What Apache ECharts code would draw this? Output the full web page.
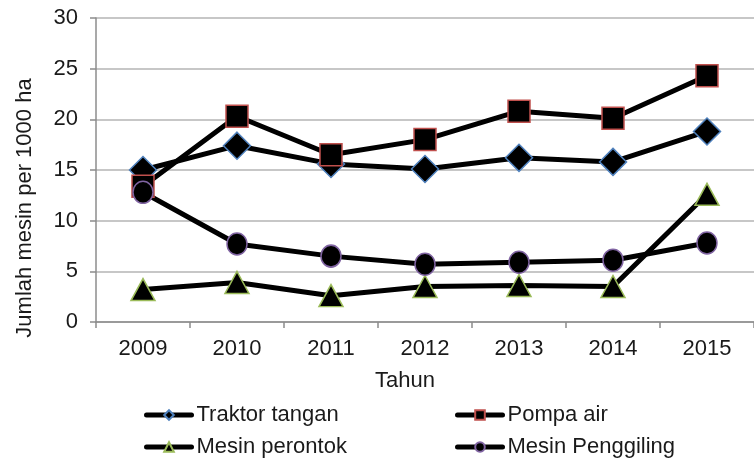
<!DOCTYPE html>
<html>
<head>
<meta charset="utf-8">
<script src="https://cdn.jsdelivr.net/npm/echarts@6/dist/echarts.min.js"></script>
<style>
    html, body { margin: 0; padding: 0; background: #fff; }
    #chart { width: 754px; height: 462px; }
</style>
</head>
<body>
<div id="chart"></div>
<script>
    // data
    const years = ['2009', '2010', '2011', '2012', '2013', '2014', '2015'];
    const traktorTangan = [15.0, 17.4, 15.6, 15.1, 16.2, 15.8, 18.8];
    const pompaAir = [13.4, 20.3, 16.5, 18.0, 20.8, 20.1, 24.3];
    const mesinPerontok = [3.2, 3.9, 2.6, 3.5, 3.6, 3.5, 12.6];
    const mesinPenggiling = [12.8, 7.7, 6.5, 5.7, 5.9, 6.1, 7.8];
    const yTicks = [0, 5, 10, 15, 20, 25, 30];

    const font = 'Liberation Sans, Arial, sans-serif';
    const fs = 22;

    function lineSeries(name, data, symbol, size, border) {
        return {
            name: name,
            type: 'line',
            data: data,
            symbol: symbol,
            symbolSize: size,
            showAllSymbol: true,
            lineStyle: { color: '#000', width: 5 },
            itemStyle: { color: '#000', borderColor: border, borderWidth: 1.5 },
            emphasis: { disabled: true },
            animation: false
        };
    }

    const legendBase = {
        orient: 'vertical',
        top: 404,
        padding: 0,
        height: 58,
        itemWidth: 45, itemHeight: 12, itemGap: 10,
        lineStyle: { width: 5, cap: 'round' },
        textStyle: { color: '#1a1a1a', fontSize: fs, fontFamily: font }
    };

    const chart = echarts.init(document.getElementById('chart'));
    chart.setOption({
        backgroundColor: '#fff',
        animation: false,
        grid: { left: 96, right: -7, top: 18, bottom: 140, containLabel: false },
        xAxis: {
            type: 'category',
            data: years,
            boundaryGap: true,
            axisLine: { lineStyle: { color: '#8c8c8c', width: 1.5 } },
            axisTick: { show: true, length: 6, alignWithLabel: false, lineStyle: { color: '#8c8c8c', width: 1.5 } },
            axisLabel: { color: '#1a1a1a', fontSize: fs, fontFamily: font, margin: 16 }
        },
        yAxis: {
            type: 'value',
            min: yTicks[0],
            max: yTicks[yTicks.length - 1],
            interval: 5,
            axisLine: { show: true, lineStyle: { color: '#8c8c8c', width: 1.5 } },
            axisTick: { show: true, length: 6, lineStyle: { color: '#8c8c8c', width: 1.5 } },
            axisLabel: { color: '#1a1a1a', fontSize: fs, fontFamily: font, margin: 18 },
            splitLine: { lineStyle: { color: '#b4b4b4', width: 1.5 } }
        },
        legend: [
            Object.assign({}, legendBase, { data: ['Traktor tangan', 'Mesin perontok'], left: 144 }),
            Object.assign({}, legendBase, { data: ['Pompa air', 'Mesin Penggiling'], left: 455 })
        ],
        graphic: [
            {
                type: 'text', x: 405, y: 381,
                style: { text: 'Tahun', fill: '#1a1a1a', font: fs + 'px ' + font, align: 'center', verticalAlign: 'middle' }
            },
            {
                type: 'text', x: 25, y: 208, rotation: Math.PI / 2,
                style: { text: 'Jumlah mesin per 1000 ha', fill: '#1a1a1a', font: fs + 'px ' + font, align: 'center', verticalAlign: 'middle' }
            }
        ],
        series: [
            lineSeries('Traktor tangan', traktorTangan, 'diamond', 27, '#4f81bd'),
            lineSeries('Pompa air', pompaAir, 'rect', 22, '#c0504d'),
            lineSeries('Mesin perontok', mesinPerontok, 'triangle', [24, 22], '#9bbb59'),
            lineSeries('Mesin Penggiling', mesinPenggiling, 'circle', [20, 22], '#8064a2')
        ]
    });
</script>
</body>
</html>
